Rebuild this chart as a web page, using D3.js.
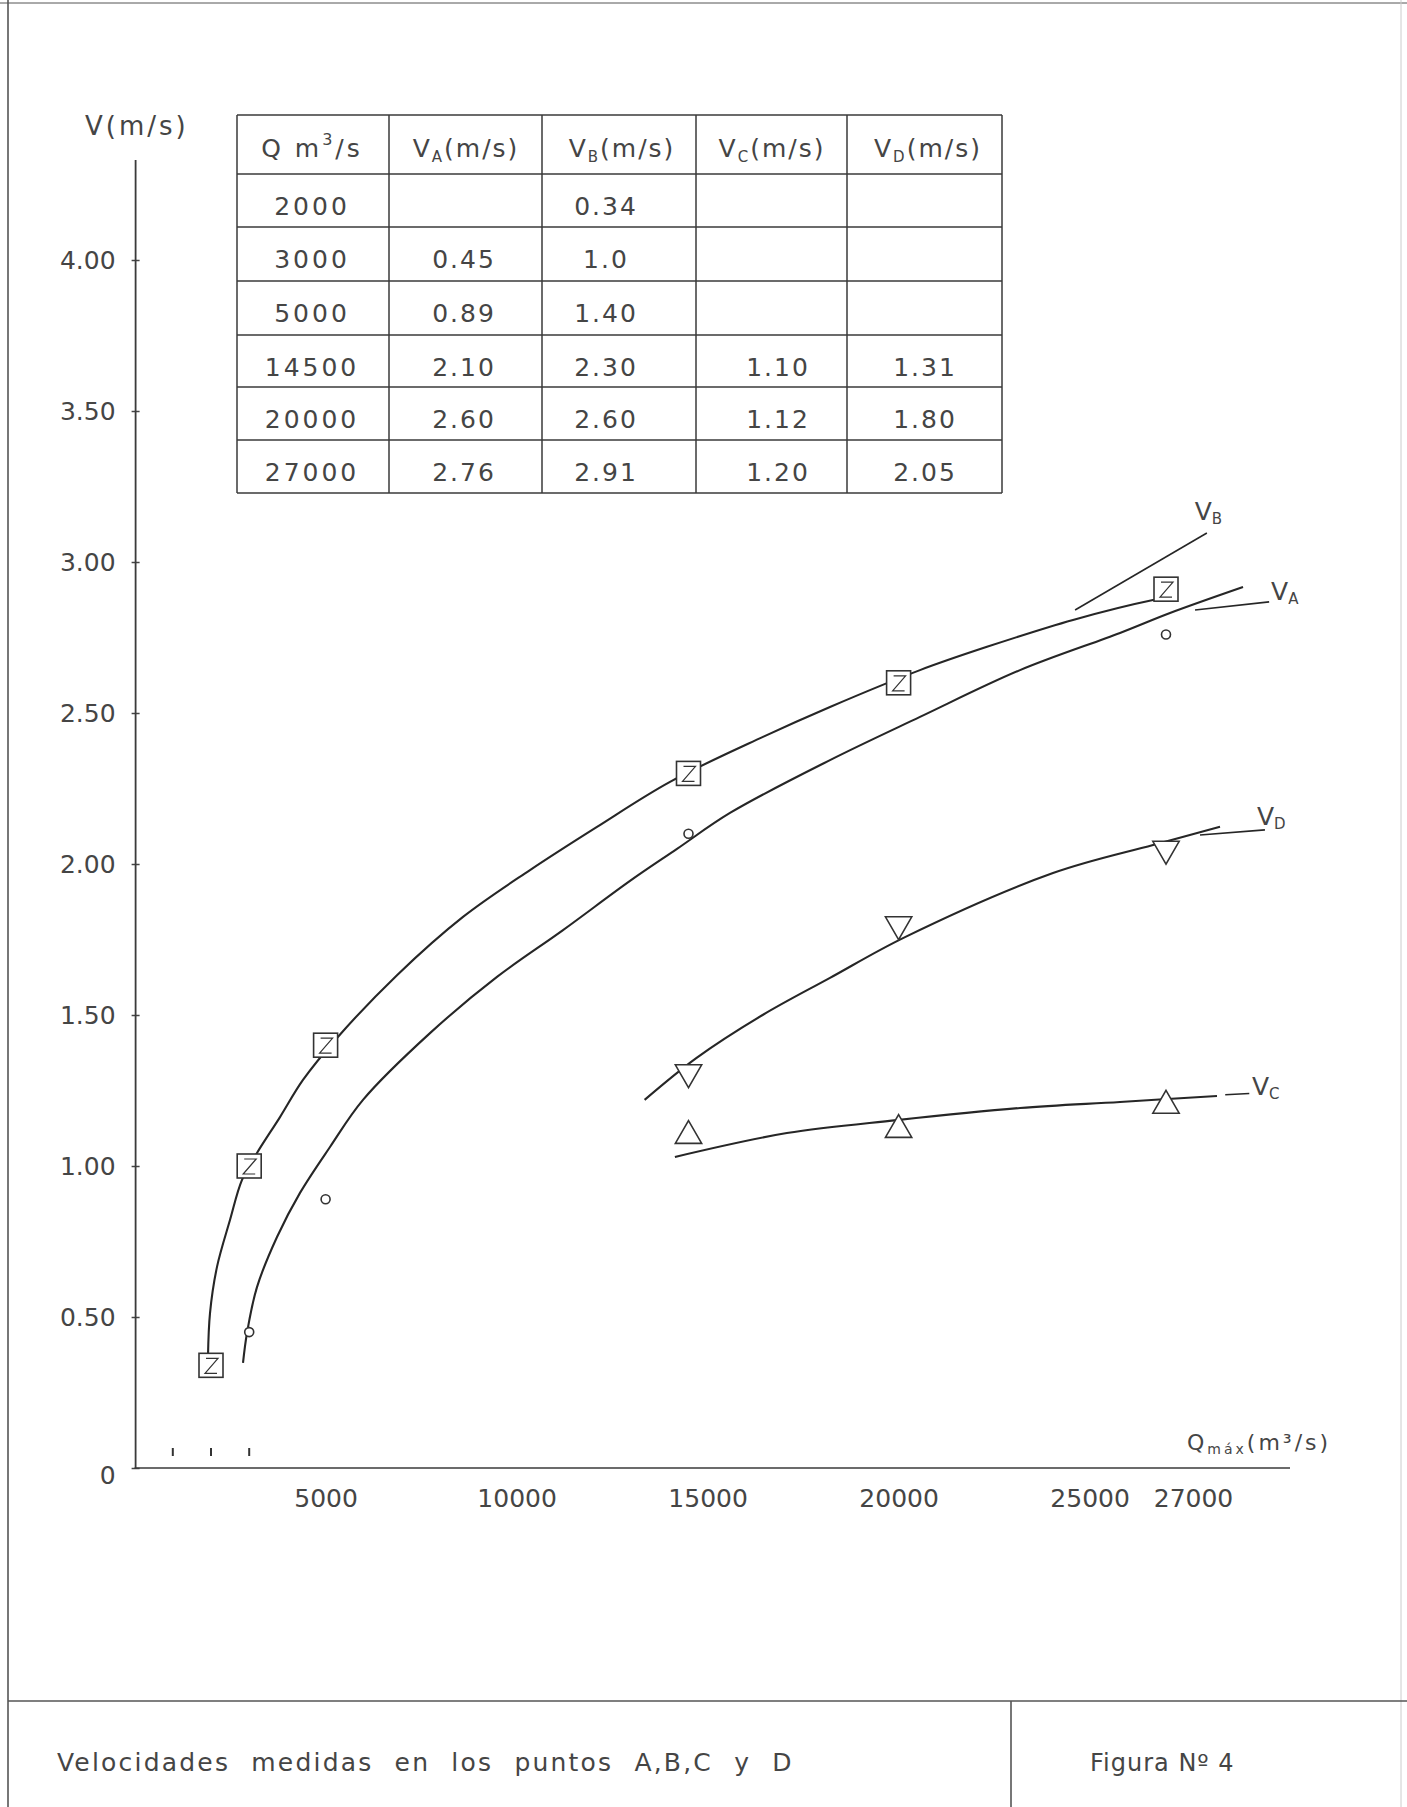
<!DOCTYPE html>
<html>
<head>
<meta charset="utf-8">
<script src="https://cdn.jsdelivr.net/npm/d3@7"></script>
<style>
  body { margin: 0; background: #fff; }
  svg text { font-family: "DejaVu Sans", sans-serif; fill: #454545; }
</style>
</head>
<body>
<svg id="chart" width="1407" height="1807"></svg>
<script>
// ---------------- data ----------------
const flowQ = [2000, 3000, 5000, 14500, 20000, 27000];
const velA  = [null, 0.45, 0.89, 2.10, 2.60, 2.76];
const velB  = [0.34, 1.0, 1.40, 2.30, 2.60, 2.91];
const velC  = [null, null, null, 1.10, 1.12, 1.20];
const velD  = [null, null, null, 1.31, 1.80, 2.05];
const tableTextB = ["0.34", "1.0", "1.40", "2.30", "2.60", "2.91"];

const yTicks = [0, 0.5, 1, 1.5, 2, 2.5, 3, 3.5, 4];
const xTicks = [5000, 10000, 15000, 20000, 25000, 27000];
const xMinorTicks = [1000, 2000, 3000];

// hand-drawn fitted curves
const fitBQ = [1921, 1974, 2157, 2497, 2812, 3204, 3806, 4408, 5298, 6869, 8597, 10351, 12105, 14016, 16450, 18204, 20560, 22314, 24565, 26660, 27288];
const fitBV = [0.368, 0.513, 0.666, 0.821, 0.954, 1.043, 1.162, 1.285, 1.424, 1.632, 1.825, 1.980, 2.123, 2.272, 2.421, 2.520, 2.642, 2.719, 2.808, 2.874, 2.887];
const fitAQ = [2838, 2942, 3204, 3728, 4330, 5115, 5979, 7733, 9487, 11215, 12969, 14199, 15586, 18204, 20560, 23178, 25796, 27105, 29016];
const fitAV = [0.348, 0.447, 0.599, 0.765, 0.911, 1.063, 1.219, 1.440, 1.626, 1.781, 1.944, 2.050, 2.169, 2.344, 2.487, 2.642, 2.765, 2.831, 2.917];
const fitDQ = [13351, 14712, 16440, 18204, 20168, 24042, 26660, 28414];
const fitDV = [1.219, 1.358, 1.500, 1.623, 1.758, 1.970, 2.063, 2.123];
const fitCQ = [14144, 17076, 19955, 23178, 25796, 28335];
const fitCV = [1.030, 1.109, 1.152, 1.192, 1.212, 1.232];

// series name labels and their leader lines (data units)
const seriesLabels = ["B", "A", "D", "C"];
const labelQ = [27750, 29750, 29380, 29250];
const labelV = [3.14, 2.875, 2.13, 1.235];
const leaderQ0 = [24620, 27760, 27890, 28550];
const leaderV0 = [2.841, 2.841, 2.096, 1.236];
const leaderQ1 = [28070, 29700, 29590, 29180];
const leaderV1 = [3.096, 2.868, 2.113, 1.240];

// ---------------- drawing ----------------
const svg = d3.select("#chart");
const ink = "#262626";
const x = d3.scaleLinear().domain([0, 30000]).range([134.6, 1280.6]);
const y = d3.scaleLinear().domain([0, 4]).range([1468, 260]);

// page frame
const frame = svg.append("g").attr("stroke", "#555").attr("stroke-width", 1.6).attr("fill", "none");
frame.append("line").attr("x1", 8).attr("x2", 8).attr("y1", 0).attr("y2", 1807);
frame.append("line").attr("x1", 0).attr("x2", 1407).attr("y1", 3).attr("y2", 3).attr("stroke-width", 1);
frame.append("line").attr("x1", 1401).attr("x2", 1401).attr("y1", 0).attr("y2", 1807).attr("stroke", "#ccc").attr("stroke-width", 1);
frame.append("line").attr("x1", 8).attr("x2", 1407).attr("y1", 1701).attr("y2", 1701);
frame.append("line").attr("x1", 1011).attr("x2", 1011).attr("y1", 1701).attr("y2", 1807);

// axes
const yAxisG = svg.append("g").attr("transform", `translate(${x(0) + 1},0)`)
  .call(d3.axisLeft(y).tickValues(yTicks).tickSizeInner(4).tickSizeOuter(0).tickPadding(16)
    .tickFormat(d => d === 0 ? "0" : d.toFixed(2)));
yAxisG.select(".domain").remove();
yAxisG.selectAll(".tick line").attr("x2", 4).attr("x1", -4).attr("stroke", "#444").attr("stroke-width", 1.5);
yAxisG.selectAll(".tick text").attr("font-size", 25).attr("font-family", "DejaVu Sans").attr("fill", "#454545")
  .attr("dy", d => d === 0 ? "0.6em" : "0.32em");
svg.append("line").attr("x1", x(0) + 1).attr("x2", x(0) + 1).attr("y1", y(0)).attr("y2", 160)
  .attr("stroke", "#3a3a3a").attr("stroke-width", 1.8);

const xAxisG = svg.append("g").attr("transform", `translate(0,${y(0)})`)
  .call(d3.axisBottom(x).tickValues(xTicks).tickSize(0).tickPadding(21).tickFormat(d3.format("d")));
xAxisG.select(".domain").remove();
xAxisG.selectAll(".tick text").attr("font-size", 25).attr("font-family", "DejaVu Sans").attr("fill", "#454545")
  .attr("dx", d => d === 27000 ? 27 : 0);
svg.append("line").attr("x1", x(0)).attr("x2", 1290).attr("y1", y(0)).attr("y2", y(0))
  .attr("stroke", "#3a3a3a").attr("stroke-width", 1.6);
svg.append("g").selectAll("line").data(xMinorTicks).join("line")
  .attr("x1", d => x(d)).attr("x2", d => x(d)).attr("y1", y(0) - 20).attr("y2", y(0) - 12)
  .attr("stroke", "#333").attr("stroke-width", 2);

// axis titles
svg.append("text").attr("x", 85).attr("y", 135).attr("font-size", 26).attr("letter-spacing", 3).text("V(m/s)");
const qt = svg.append("text").attr("x", 1187).attr("y", 1450).attr("font-size", 22).attr("letter-spacing", 3).attr("fill", "#666");
qt.append("tspan").text("Q");
qt.append("tspan").attr("font-size", 14).attr("dy", 4).text("m\u00e1x");
qt.append("tspan").attr("dy", -4).text("(m\u00b3/s)");

// table
const colX = [237, 389, 542, 696, 847, 1002];
const rowY = [115, 174, 227, 281, 335, 387, 440, 493];
const tbl = svg.append("g").attr("stroke", "#3a3a3a").attr("stroke-width", 1.5);
colX.forEach(cx => tbl.append("line").attr("x1", cx).attr("x2", cx).attr("y1", rowY[0]).attr("y2", rowY[rowY.length - 1]));
rowY.forEach(ry => tbl.append("line").attr("x1", colX[0]).attr("x2", colX[colX.length - 1]).attr("y1", ry).attr("y2", ry));
const colCenter = [312, 464, 606, 778, 925];
const headerG = svg.append("g").attr("font-size", 25).attr("text-anchor", "middle");
const h0 = headerG.append("text").attr("x", colCenter[0]).attr("y", 157).attr("letter-spacing", 3);
h0.append("tspan").text("Q m");
h0.append("tspan").attr("font-size", 16).attr("dy", -12).text("3");
h0.append("tspan").attr("dy", 12).text("/s");
["A", "B", "C", "D"].forEach((s, i) => {
  const t = headerG.append("text").attr("x", [466, 622, 772, 928][i]).attr("y", 157).attr("letter-spacing", 2);
  t.append("tspan").text("V");
  t.append("tspan").attr("font-size", 15).attr("dy", 5).text(s);
  t.append("tspan").attr("dy", -5).text("(m/s)");
});
const body = svg.append("g").attr("font-size", 25).attr("text-anchor", "middle").attr("letter-spacing", 2);
flowQ.forEach((q, r) => {
  const yy = rowY[r + 1] + 41;
  body.append("text").attr("x", colCenter[0]).attr("y", yy).attr("letter-spacing", 3).text(q);
  if (velA[r] !== null) body.append("text").attr("x", colCenter[1]).attr("y", yy).text(velA[r].toFixed(2));
  body.append("text").attr("x", colCenter[2]).attr("y", yy).text(tableTextB[r]);
  if (velC[r] !== null) body.append("text").attr("x", colCenter[3]).attr("y", yy).text(velC[r].toFixed(2));
  if (velD[r] !== null) body.append("text").attr("x", colCenter[4]).attr("y", yy).text(velD[r].toFixed(2));
});

// fitted curves
const line = d3.line().x(d => x(d[0])).y(d => y(d[1])).curve(d3.curveCatmullRom.alpha(0.5));
const curves = [[fitBQ, fitBV], [fitAQ, fitAV], [fitDQ, fitDV], [fitCQ, fitCV]];
svg.append("g").selectAll("path").data(curves).join("path")
  .attr("d", c => line(c[0].map((q, i) => [q, c[1][i]])))
  .attr("fill", "none").attr("stroke", ink).attr("stroke-width", 2.1);

// leaders + labels
seriesLabels.forEach((s, i) => {
  svg.append("line").attr("x1", x(leaderQ0[i])).attr("y1", y(leaderV0[i]))
    .attr("x2", x(leaderQ1[i])).attr("y2", y(leaderV1[i]))
    .attr("stroke", ink).attr("stroke-width", 1.6);
  const t = svg.append("text").attr("x", x(labelQ[i])).attr("y", y(labelV[i]))
    .attr("font-size", 25).attr("fill", "#333");
  t.append("tspan").text("V");
  t.append("tspan").attr("font-size", 15).attr("dy", 4).text(s);
});

// markers
const pts = (vals) => flowQ.map((q, i) => [q, vals[i]]).filter(d => d[1] !== null);
const mk = svg.append("g").attr("fill", "#fff").attr("stroke", "#333").attr("stroke-width", 1.6);
// circles (V_A) first, so a coincident square covers them
mk.selectAll("circle").data(pts(velA)).join("circle")
  .attr("cx", d => x(d[0])).attr("cy", d => y(d[1])).attr("r", 4.5);
// squares (V_B)
const sq = mk.selectAll("g.sq").data(pts(velB)).join("g").attr("class", "sq")
  .attr("transform", d => `translate(${x(d[0])},${y(d[1])})`);
sq.append("rect").attr("x", -12).attr("y", -12).attr("width", 24).attr("height", 24).attr("fill", "#fff");
sq.append("path").attr("d", "M-5,-7 L7,-7 L-6,8 L6,8").attr("fill", "none").attr("stroke-width", 1.2);
// triangles up (V_C)
const tri = d3.symbol().type(d3.symbolTriangle).size(300);
mk.selectAll("path.tu").data(pts(velC)).join("path").attr("class", "tu")
  .attr("d", tri).attr("transform", d => `translate(${x(d[0])},${y(d[1])})`);
// triangles down (V_D)
mk.selectAll("path.td").data(pts(velD)).join("path").attr("class", "td")
  .attr("d", tri).attr("transform", d => `translate(${x(d[0])},${y(d[1])}) rotate(180)`);

// footer texts
svg.append("text").attr("x", 57).attr("y", 1771).attr("font-size", 25).attr("letter-spacing", 2.2)
  .attr("word-spacing", 11).text("Velocidades medidas en los puntos A,B,C y D");
svg.append("text").attr("x", 1090).attr("y", 1771).attr("font-size", 24).attr("letter-spacing", 1)
  .attr("fill", "#777").text("Figura Nº 4");
</script>
</body>
</html>
